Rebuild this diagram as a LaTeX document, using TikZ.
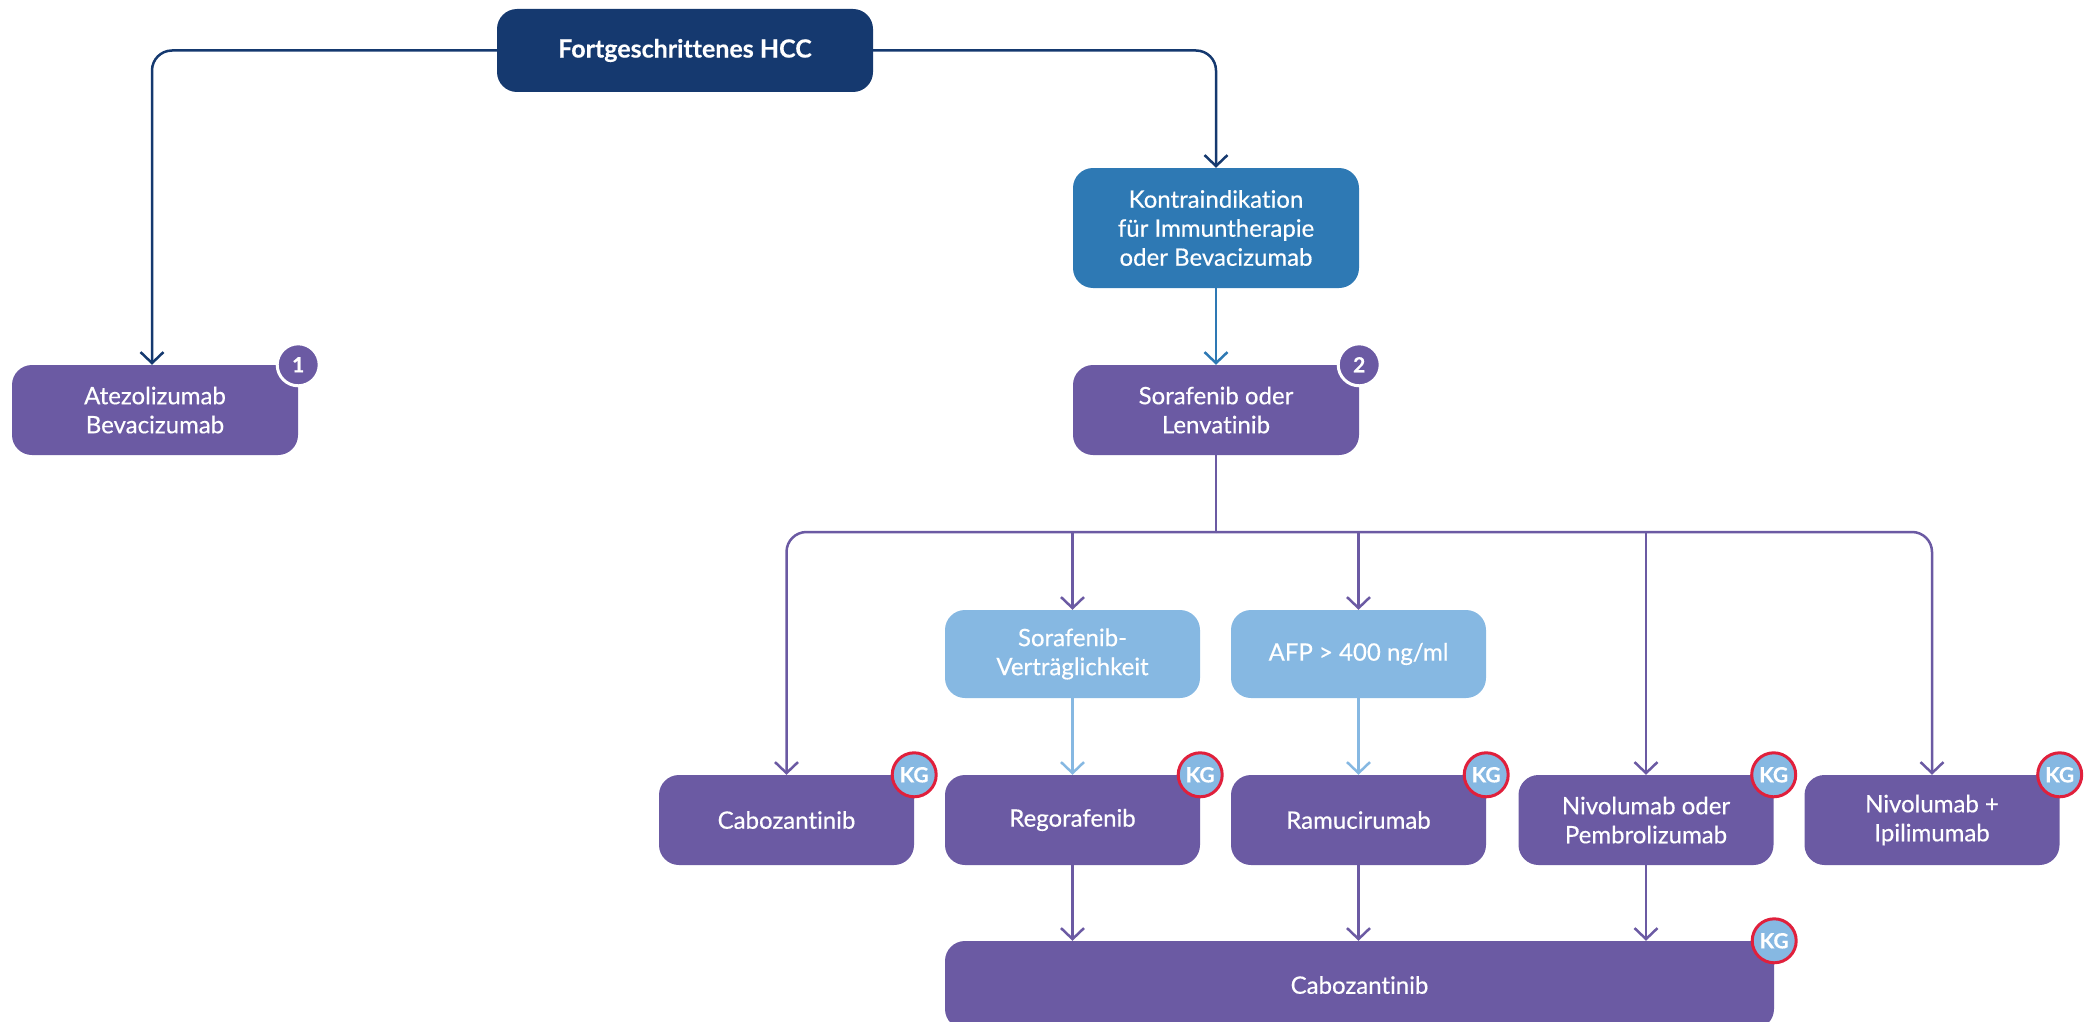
\documentclass[tikz,border=0pt]{standalone}
\usepackage{fontspec}
\setmainfont{Lato}[Ligatures={TeX,NoCommon}, FakeBold=0.4]
\newfontfamily\labelfont{Lato}[Ligatures={TeX,NoCommon}, FakeBold=0.4]
\usetikzlibrary{arrows.meta}

\definecolor{navy}{HTML}{15396F}
\definecolor{midblue}{HTML}{2E79B4}
\definecolor{violet}{HTML}{6B5AA3}
\definecolor{skyblue}{HTML}{86B8E2}
\definecolor{alertred}{HTML}{E0203C}

\tikzset{
  card/.style={rectangle, rounded corners=20pt, inner sep=0pt, align=center,
    text=white, font=\labelfont\fontsize{24}{29}\selectfont},
  toplevel/.style={card, fill=navy, font=\bfseries\fontsize{25}{29}\selectfont},
  contra/.style={card, fill=midblue},
  therapy/.style={card, fill=violet},
  condition/.style={card, fill=skyblue},
  numbadge/.style={circle, fill=violet, draw=white, line width=3pt,
    minimum size=42pt, inner sep=0pt, text=white,
    font=\bfseries\fontsize{21}{21}\selectfont},
  kgbadge/.style={circle, fill=skyblue, draw=alertred, line width=3pt,
    minimum size=44pt, inner sep=0pt, text=white,
    font=\bfseries\fontsize{21}{21}\selectfont},
  link/.style={line width=2.5pt, rounded corners=20pt,
    -{Straight Barb[length=11pt, width=23pt, line width=2.5pt]}},
  plain/.style={line width=2.5pt, rounded corners=20pt},
}

\begin{document}
\begin{tikzpicture}[x=1pt, y=-1pt]
\useasboundingbox (0,0) rectangle (2096,1022);
\clip (0,0) rectangle (2096,1022);

% top level and first split
\node[toplevel, minimum width=376pt, minimum height=83pt] (hcc) at (685,50.5) {Fortgeschrittenes HCC};
\node[therapy, minimum width=286pt, minimum height=90pt] (atezo) at (155,410) {Atezolizumab\\Bevacizumab};
\node[contra, minimum width=286pt, minimum height=120pt] (contra) at (1216,228) {Kontraindikation\\für Immuntherapie\\oder Bevacizumab};
\node[therapy, minimum width=286pt, minimum height=90pt] (sora) at (1216,410) {Sorafenib oder\\Lenvatinib};

% conditions
\node[condition, minimum width=255pt, minimum height=88pt] (tol) at (1072.5,654) {Sorafenib-\\Verträglichkeit};
\node[condition, minimum width=255pt, minimum height=88pt] (afp) at (1358.5,654) {AFP > 400 ng/ml};

% second line therapies
\node[therapy, minimum width=255pt, minimum height=90pt] (cabo) at (786.5,820) {Cabozantinib};
\node[therapy, minimum width=255pt, minimum height=90pt] (rego) at (1072.5,820) {Regorafenib};
\node[therapy, minimum width=255pt, minimum height=90pt] (ramu) at (1358.5,820) {Ramucirumab};
\node[therapy, minimum width=255pt, minimum height=90pt] (nivo) at (1646,820) {Nivolumab oder\\Pembrolizumab};
\node[therapy, minimum width=255pt, minimum height=90pt] (nivoipi) at (1932,820) {Nivolumab +\\Ipilimumab};

% third line
\node[therapy, minimum width=829pt, minimum height=88pt] (cabolast) at (1359.5,985) {Cabozantinib};

% connectors
\draw[link, navy] (hcc.west) -| ([xshift=-3pt]atezo.north);
\draw[link, navy] (hcc.east) -| (contra.north);
\draw[link, midblue] (contra.south) -- (sora.north);

\coordinate (split) at (1216,532);
\draw[plain, violet] (sora.south) -- (split);
\draw[link, violet] (split) -| (cabo.north);
\draw[link, violet] (split) -| (nivoipi.north);
\draw[link, violet] (tol.north |- split) -- (tol.north);
\draw[link, violet] (afp.north |- split) -- (afp.north);
\draw[link, violet] (nivo.north |- split) -- (nivo.north);

\draw[link, skyblue] (tol.south) -- (rego.north);
\draw[link, skyblue] (afp.south) -- (ramu.north);

\draw[link, violet] (rego.south) -- (rego.south |- cabolast.north);
\draw[link, violet] (ramu.south) -- (ramu.south |- cabolast.north);
\draw[link, violet] (nivo.south) -- (nivo.south |- cabolast.north);

% badges
\node[numbadge] (b1) at (atezo.north east) {1};
\node[numbadge] (b2) at (sora.north east) {2};
\node[kgbadge] (k1) at (cabo.north east) {KG};
\node[kgbadge] (k2) at (rego.north east) {KG};
\node[kgbadge] (k3) at (ramu.north east) {KG};
\node[kgbadge] (k4) at (nivo.north east) {KG};
\node[kgbadge] (k5) at (nivoipi.north east) {KG};
\node[kgbadge] (k6) at (cabolast.north east) {KG};
\end{tikzpicture}
\end{document}
